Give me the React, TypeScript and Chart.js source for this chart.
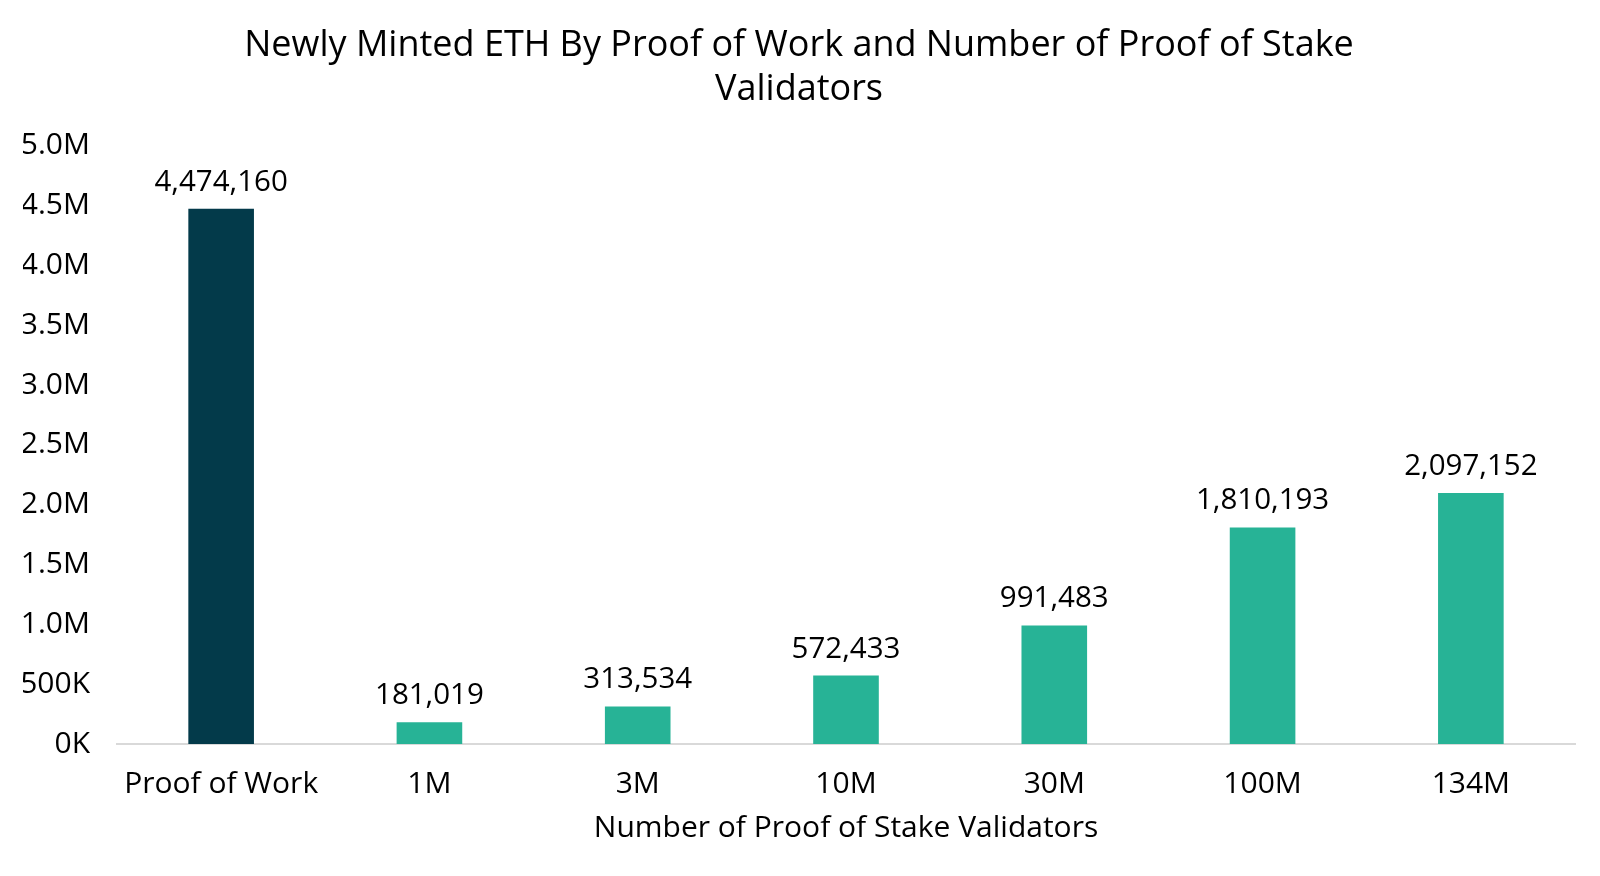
import { useRef, useEffect } from "react";
import { Chart, ChartConfiguration, registerables, Plugin } from "chart.js";

Chart.register(...registerables);

const categories = ["Proof of Work", "1M", "3M", "10M", "30M", "100M", "134M"];
const mintedEth = [4474160, 181019, 313534, 572433, 991483, 1810193, 2097152];
const barColors = ["#033A4A", "#27B396", "#27B396", "#27B396", "#27B396", "#27B396", "#27B396"];

const FONT = "'Open Sans', sans-serif";

const valueLabels: Plugin<"bar"> = {
  id: "valueLabels",
  afterDatasetsDraw(chart) {
    const { ctx } = chart;
    const meta = chart.getDatasetMeta(0);
    ctx.save();
    ctx.font = `29.5px ${FONT}`;
    ctx.fillStyle = "#000000";
    ctx.textAlign = "center";
    ctx.textBaseline = "alphabetic";
    meta.data.forEach((bar, i) => {
      ctx.fillText(mintedEth[i].toLocaleString("en-US"), bar.x, bar.y - 18);
    });
    ctx.restore();
  },
};

function formatTick(v: number) {
  if (v < 1000000) return `${v / 1000}K`;
  return `${(v / 1000000).toFixed(1)}M`;
}

export default function App() {
  const chartRef = useRef<HTMLCanvasElement>(null);
  const chartInstanceRef = useRef<Chart | null>(null);

  useEffect(() => {
    document.body.style.margin = "0";
    if (!chartRef.current) return;
    const ctx = chartRef.current.getContext("2d");
    if (!ctx) return;

    const config: ChartConfiguration<"bar"> = {
      type: "bar",
      data: {
        labels: categories,
        datasets: [
          {
            data: mintedEth,
            backgroundColor: barColors,
            barPercentage: 1,
            categoryPercentage: 0.315,
          },
        ],
      },
      options: {
        responsive: true,
        maintainAspectRatio: false,
        animation: false,
        layout: { padding: { left: 23, right: 25, top: 24, bottom: 30 } },
        plugins: {
          legend: { display: false },
          tooltip: { enabled: false },
          title: {
            display: true,
            text: ["Newly Minted ETH By Proof of Work and Number of Proof of Stake", "Validators"],
            color: "#000000",
            font: { family: FONT, size: 36, weight: "normal", lineHeight: 1.22 },
            padding: { top: 0, bottom: 34 },
          },
        },
        scales: {
          x: {
            grid: { display: false },
            border: { color: "#d9d9d9", width: 2 },
            ticks: { color: "#000000", font: { family: FONT, size: 30 }, padding: 14 },
            title: {
              display: true,
              text: "Number of Proof of Stake Validators",
              color: "#000000",
              font: { family: FONT, size: 30 },
              padding: { top: -6, bottom: 0 },
            },
          },
          y: {
            min: 0,
            max: 5000000,
            grid: { display: false, drawTicks: false },
            border: { display: false },
            afterFit: (scale) => {
              scale.width = 94;
            },
            ticks: {
              stepSize: 500000,
              color: "#000000",
              font: { family: FONT, size: 30 },
              padding: 27,
              callback: (v) => formatTick(Number(v)),
            },
          },
        },
      },
      plugins: [valueLabels],
    };

    chartInstanceRef.current = new Chart(ctx, config);

    return () => {
      if (chartInstanceRef.current) {
        chartInstanceRef.current.destroy();
        chartInstanceRef.current = null;
      }
    };
  }, []);

  return (
    <div style={{ width: 1600, height: 876, background: "#ffffff" }}>
      <canvas ref={chartRef}></canvas>
    </div>
  );
}
